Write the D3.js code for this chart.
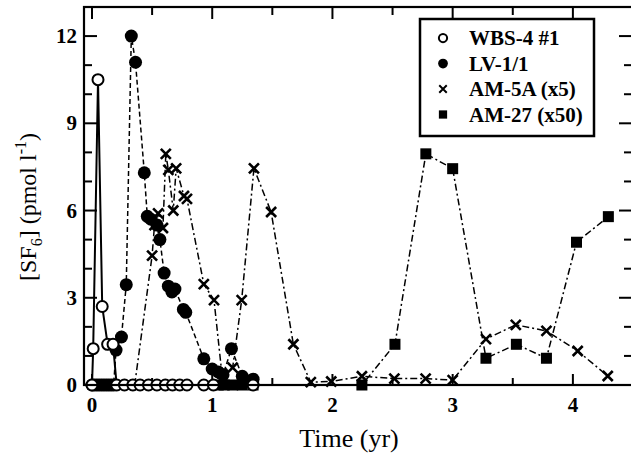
<!DOCTYPE html>
<html>
<head>
<meta charset="utf-8">
<script src="https://cdn.jsdelivr.net/npm/d3@7"></script>
<style>
  body { margin: 0; background: #fff; }
  svg { display: block; font-family: "Liberation Serif", "Times New Roman", serif; }
</style>
</head>
<body>
<span></span>
<script>
let width = 631;
let height = 458;

// WBS-4 #1 (open circles, solid line)
let wbsT = [0, 0.01, 0.05, 0.085, 0.13, 0.175, 0.205, 0.27, 0.34, 0.40, 0.47, 0.54, 0.61, 0.67, 0.73, 0.79, 0.93, 1.01, 1.34];
let wbsV = [0, 1.25, 10.5, 2.7, 1.4, 1.4, 0, 0, 0, 0, 0, 0, 0, 0, 0, 0, 0, 0, 0];

// LV-1/1 (filled circles, dashed)
let lvT = [0, 0.02, 0.04, 0.06, 0.08, 0.1, 0.12, 0.14, 0.16, 0.18, 0.2, 0.245, 0.285, 0.327, 0.362, 0.435, 0.46, 0.49, 0.54, 0.565, 0.6, 0.635, 0.665, 0.69, 0.76, 0.78, 0.93, 1.0, 1.05, 1.09, 1.16, 1.25, 1.34];
let lvV = [0, 0, 0, 0, 0, 0, 0, 0, 0, 0, 1.2, 1.65, 3.45, 12.0, 11.1, 7.3, 5.8, 5.7, 5.5, 5.0, 3.85, 3.4, 3.2, 3.3, 2.6, 2.5, 0.9, 0.55, 0.45, 0.35, 1.25, 0.3, 0.2];

// AM-5A (x5) (crosses, dash-dot)
let amT = [0.355, 0.5, 0.52, 0.55, 0.59, 0.614, 0.635, 0.676, 0.70, 0.765, 0.79, 0.93, 1.015, 1.08, 1.17, 1.245, 1.347, 1.49, 1.675, 1.82, 1.99, 2.245, 2.515, 2.775, 3.0, 3.277, 3.525, 3.78, 4.04, 4.29];
let amV = [0, 4.45, 5.5, 5.9, 5.4, 7.95, 7.4, 6.0, 7.45, 6.5, 6.4, 3.47, 2.92, 0.4, 0.6, 2.92, 7.45, 5.95, 1.4, 0.1, 0.12, 0.3, 0.22, 0.22, 0.17, 1.58, 2.07, 1.86, 1.17, 0.31];

// AM-27 (x50) (squares, dash-dot)
let a27T = [1.05, 1.1, 1.17, 1.25, 1.34, 2.245, 2.52, 2.777, 3.0, 3.277, 3.53, 3.78, 4.03, 4.295];
let a27V = [0, 0, 0, 0, 0, 0, 1.4, 7.95, 7.44, 0.92, 1.4, 0.92, 4.91, 5.79];

let xTicks = [0, 1, 2, 3, 4];
let yTicks = [0, 3, 6, 9, 12];
let legendNames = ["WBS-4 #1", "LV-1/1", "AM-5A (x5)", "AM-27 (x50)"];

let svg = d3.select("span")
    .append("svg")
    .attr("width", width)
    .attr("height", height);

let x = d3.scaleLinear().domain([-0.0665, 4.5]).range([84, 633]);
let y = d3.scaleLinear().domain([0, 13]).range([385, 7]);

function zip(ts, vs) {
    return ts.map((t, i) => ({ t: t, v: vs[i] }));
}

let line = d3.line().x(d => x(d.t)).y(d => y(d.v));

let series = [
    { data: zip(a27T, a27V), mark: "square", dash: "7,3,2,3", w: 1.5 },
    { data: zip(amT, amV), mark: "cross", dash: "7,3,2,3", w: 1.5 },
    { data: zip(lvT, lvV), mark: "dot", dash: "5,3", w: 1.5 },
    { data: zip(wbsT, wbsV), mark: "open", dash: null, w: 2 }
];

// ticks (inside) on all four sides
let xMinor = d3.range(0, 4.51, 0.5);
let yMinor = d3.range(0, 13, 1);
let tickG = svg.append("g").attr("stroke", "#000").attr("stroke-width", 2);
xMinor.forEach(t => {
    let len = Number.isInteger(t) ? 11 : 7;
    tickG.append("line").attr("x1", x(t)).attr("x2", x(t)).attr("y1", y(0)).attr("y2", y(0) - len);
    tickG.append("line").attr("x1", x(t)).attr("x2", x(t)).attr("y1", y(13)).attr("y2", y(13) + len + 1);
});
yMinor.forEach(v => {
    let len = v % 3 === 0 ? 13 : 8;
    tickG.append("line").attr("x1", 84).attr("x2", 84 + len).attr("y1", y(v)).attr("y2", y(v));
    tickG.append("line").attr("x1", 632).attr("x2", 632 - len).attr("y1", y(v)).attr("y2", y(v));
});

// series lines
series.forEach(s => {
    svg.append("path")
        .attr("d", line(s.data))
        .attr("fill", "none")
        .attr("stroke", "#000")
        .attr("stroke-width", s.w)
        .attr("stroke-dasharray", s.dash);
});

function drawMark(g, kind, cx, cy, k) {
    if (kind === "square") {
        let s = 11 * k;
        g.append("rect").attr("x", cx - s / 2).attr("y", cy - s / 2).attr("width", s).attr("height", s).attr("fill", "#000");
    } else if (kind === "cross") {
        let s = 5 * k;
        g.append("path")
            .attr("d", `M${cx - s},${cy - s}L${cx + s},${cy + s}M${cx - s},${cy + s}L${cx + s},${cy - s}`)
            .attr("stroke", "#000").attr("stroke-width", 2.6 * k).attr("fill", "none");
    } else if (kind === "dot") {
        g.append("circle").attr("cx", cx).attr("cy", cy).attr("r", 6.5 * k).attr("fill", "#000");
    } else {
        g.append("circle").attr("cx", cx).attr("cy", cy).attr("r", 5.5 * k)
            .attr("fill", "#fff").attr("stroke", "#000").attr("stroke-width", 2);
    }
}

series.forEach(s => {
    let g = svg.append("g");
    s.data.forEach(d => drawMark(g, s.mark, x(d.t), y(d.v), 1));
});

// frame
svg.append("rect")
    .attr("x", 84).attr("y", 7)
    .attr("width", 549).attr("height", 378)
    .attr("fill", "none").attr("stroke", "#000").attr("stroke-width", 2.2);

// tick labels
svg.append("g").selectAll("text").data(xTicks).join("text")
    .attr("x", d => x(d)).attr("y", 412)
    .attr("text-anchor", "middle")
    .attr("font-size", 21).attr("font-weight", "bold")
    .text(d => d);
svg.append("g").selectAll("text").data(yTicks).join("text")
    .attr("x", 77).attr("y", d => y(d) + 7)
    .attr("text-anchor", "end")
    .attr("font-size", 21).attr("font-weight", "bold")
    .text(d => d);

// axis titles
svg.append("text")
    .attr("x", 349).attr("y", 447)
    .attr("text-anchor", "middle")
    .attr("font-size", 26)
    .text("Time (yr)");

let yl = svg.append("text")
    .attr("transform", "translate(36,207) rotate(-90)")
    .attr("text-anchor", "middle")
    .attr("font-size", 24);
yl.append("tspan").text("[SF");
yl.append("tspan").attr("font-size", 16).attr("dy", 6).text("6");
yl.append("tspan").attr("dy", -6).text("]  (pmol l");
yl.append("tspan").attr("font-size", 16).attr("dy", -10).text("-1");
yl.append("tspan").attr("dy", 10).text(")");

// legend
let lg = svg.append("g");
lg.append("rect")
    .attr("x", 420).attr("y", 19).attr("width", 174).attr("height", 117)
    .attr("fill", "#fff").attr("stroke", "#000").attr("stroke-width", 2.5);
let legendMarks = ["open", "dot", "cross", "square"];
legendNames.forEach((name, i) => {
    let cy = 38 + i * 25.5;
    drawMark(lg, legendMarks[i], 443, cy, 0.75);
    lg.append("text")
        .attr("x", 469).attr("y", cy + 7)
        .attr("font-size", 21).attr("font-weight", "bold")
        .text(name);
});
</script>
</body>
</html>
